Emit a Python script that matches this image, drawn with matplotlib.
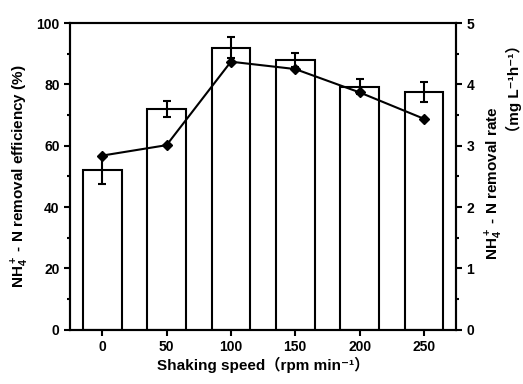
import matplotlib
matplotlib.use("Agg")
import matplotlib.pyplot as plt
from matplotlib.ticker import MultipleLocator

plt.rcParams["font.family"] = ["Liberation Sans", "Noto Sans CJK SC", "DejaVu Sans"]
plt.rcParams["font.weight"] = "bold"
plt.rcParams["mathtext.fontset"] = "custom"
plt.rcParams["mathtext.rm"] = "Liberation Sans:bold"
plt.rcParams["mathtext.bf"] = "Liberation Sans:bold"
plt.rcParams["mathtext.it"] = "Liberation Sans:bold:italic"
plt.rcParams["mathtext.default"] = "bf"

# data
speeds = [0, 50, 100, 150, 200, 250]
efficiency = [52.0, 72.0, 92.0, 88.0, 79.2, 77.6]
eff_err = [4.3, 2.7, 3.4, 2.2, 2.4, 3.3]
rate = [2.84, 3.01, 4.37, 4.25, 3.87, 3.44]

fig = plt.figure(figsize=(5.23, 3.84), dpi=100)
ax = fig.add_axes([0.134, 0.141, 0.738, 0.799])

ax.bar(speeds, efficiency, width=30, color="white", edgecolor="black", linewidth=1.5,
       yerr=eff_err, error_kw=dict(ecolor="black", elinewidth=1.5, capsize=3, capthick=1.5))
ax.set_xlim(-25, 275)
ax.set_ylim(0, 100)
ax.set_xticks(speeds)
ax.yaxis.set_major_locator(MultipleLocator(20))
ax.yaxis.set_minor_locator(MultipleLocator(10))
ax.set_xlabel("Shaking speed（rpm min⁻¹）", fontsize=11, fontweight="bold", labelpad=2)
ax.set_ylabel("NH$_4^+$ - N removal efficiency (%)", fontsize=11, fontweight="bold")

ax2 = ax.twinx()
ax2.plot(speeds, rate, color="black", marker="D", markersize=5, linewidth=1.5)
ax2.set_ylim(0, 5)
ax2.yaxis.set_major_locator(MultipleLocator(1))
ax2.yaxis.set_minor_locator(MultipleLocator(0.5))

# right axis title, two lines placed like the original
fig.text(0.946, 0.523, "NH$_4^+$ - N removal rate", rotation=90, fontsize=11,
         fontweight="bold", ha="center", va="center")
fig.text(0.982, 0.77, "（mg L⁻¹h⁻¹）", rotation=90, fontsize=11,
         fontweight="bold", ha="center", va="center")

for a in (ax, ax2):
    for s in a.spines.values():
        s.set_linewidth(1.5)
    a.tick_params(which="major", direction="out", length=4, width=1.5, labelsize=10)
    a.tick_params(which="minor", direction="out", length=2.5, width=1.5)
    for lbl in a.get_xticklabels() + a.get_yticklabels():
        lbl.set_fontweight("bold")

fig.savefig("out.png", dpi=100)
